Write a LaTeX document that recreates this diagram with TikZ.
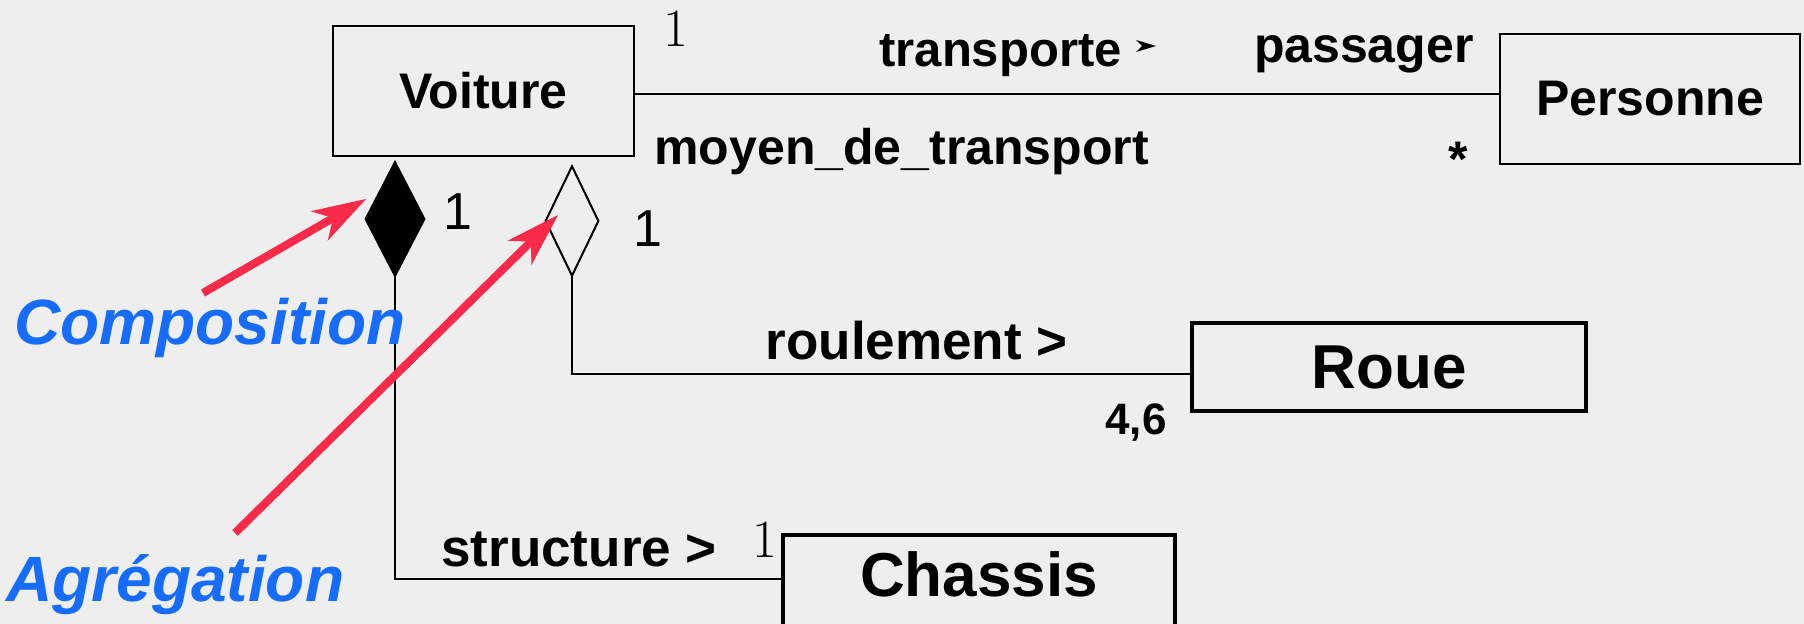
\documentclass[tikz,border=0pt]{standalone}
\usepackage{fontspec}
\setsansfont{Liberation Sans}
\usetikzlibrary{arrows.meta,positioning}
\definecolor{paper}{RGB}{238,238,238}
\definecolor{notered}{RGB}{250,42,72}
\definecolor{noteblue}{RGB}{22,108,255}
\newcommand{\setsz}[1]{\fontsize{#1}{#1}\selectfont}
\tikzset{classe/.style={draw, rectangle, line width=1pt, inner sep=0pt, font=\sffamily\bfseries\setsz{25pt}}}

\begin{document}
\begin{tikzpicture}[x=0.5pt, y=-0.5pt,
    grosse/.style={classe, line width=2pt, font=\sffamily\bfseries\setsz{31pt}},
    lbl/.style={inner sep=0pt, font=\sffamily\bfseries\setsz{25pt}},
    mult/.style={inner sep=0pt, font=\sffamily\setsz{26pt}},
    multrm/.style={inner sep=0pt, font=\rmfamily\setsz{27pt}},
    note/.style={inner sep=0pt, text=noteblue, font=\sffamily\bfseries\itshape\setsz{32pt}},
    lien/.style={line width=1pt},
    pointe/.style={draw=notered, line width=4pt, -{Stealth[length=27pt, width=17pt, inset=8pt, line width=0.5pt]}}]

    \useasboundingbox (0,0) rectangle (1804,624);
    \fill[paper] (0,0) rectangle (1804,624);

    \node[classe, minimum width=150.5pt, minimum height=65pt] (voiture) at (483.5,91) {Voiture};
    \node[classe, minimum width=150pt, minimum height=65pt] (personne) at (1650,99) {Personne};
    \node[grosse, minimum width=197pt, minimum height=44pt] (roue) at (1389,367) {Roue};
    \node[grosse, minimum width=196pt, minimum height=50pt, text depth=11pt] (chassis) at (979,585) {Chassis};

    \draw[lien] ([yshift=-1.5pt]voiture.east) -- ([yshift=-1.5pt]voiture.east -| personne.west);
    \draw[lien, -{Diamond[open, length=57pt, width=27.5pt]}] ([yshift=-3.5pt]roue.west) -| ([xshift=44.25pt, yshift=-3.5pt]voiture.south);
    \draw[lien, -{Diamond[length=59pt, width=30.5pt]}] ([yshift=3pt]chassis.west) -| ([xshift=-44.25pt, yshift=-1.5pt]voiture.south);

    \node[multrm] (m1) at (676,29) {1};
    \node[lbl, anchor=base west, font=\sffamily\bfseries\setsz{24.5pt}] (transp) at (879,67) {transporte};
    \fill (1156,46) -- (1136,40) -- (1142,46) -- (1136,52) -- cycle;
    \node[lbl, anchor=base east] (pass) at (1474,63) {passager};
    \node[lbl, anchor=base west] (moyen) at (654,165) {moyen\_de\_transport};
    \node[lbl, anchor=base] (etoile) at (1458,177) {*};
    \node[mult, anchor=base] (m2) at (458,230) {1};
    \node[mult, anchor=base] (m3) at (648,247) {1};
    \node[lbl, anchor=base east, font=\sffamily\bfseries\setsz{26.5pt}] (roul) at (1068,360) {roulement >};
    \node[lbl, anchor=base west, font=\sffamily\bfseries\setsz{22pt}] (card) at (1105,435) {4,6};
    \node[lbl, anchor=base west, font=\sffamily\bfseries\setsz{26.5pt}] (struc) at (441,567) {structure >};
    \node[multrm] (m4) at (765,540) {1};

    \node[note, anchor=base west] (compo) at (14,345) {Composition};
    \node[note, anchor=base west] (agreg) at (6,602) {Agrégation};

    \coordinate (compo-from) at (203,293);
    \coordinate (compo-to) at (366,199);
    \coordinate (agreg-from) at (235,533);
    \coordinate (agreg-to) at (558,215);
    \draw[pointe] (compo-from) -- (compo-to);
    \draw[pointe] (agreg-from) -- (agreg-to);
\end{tikzpicture}
\end{document}
